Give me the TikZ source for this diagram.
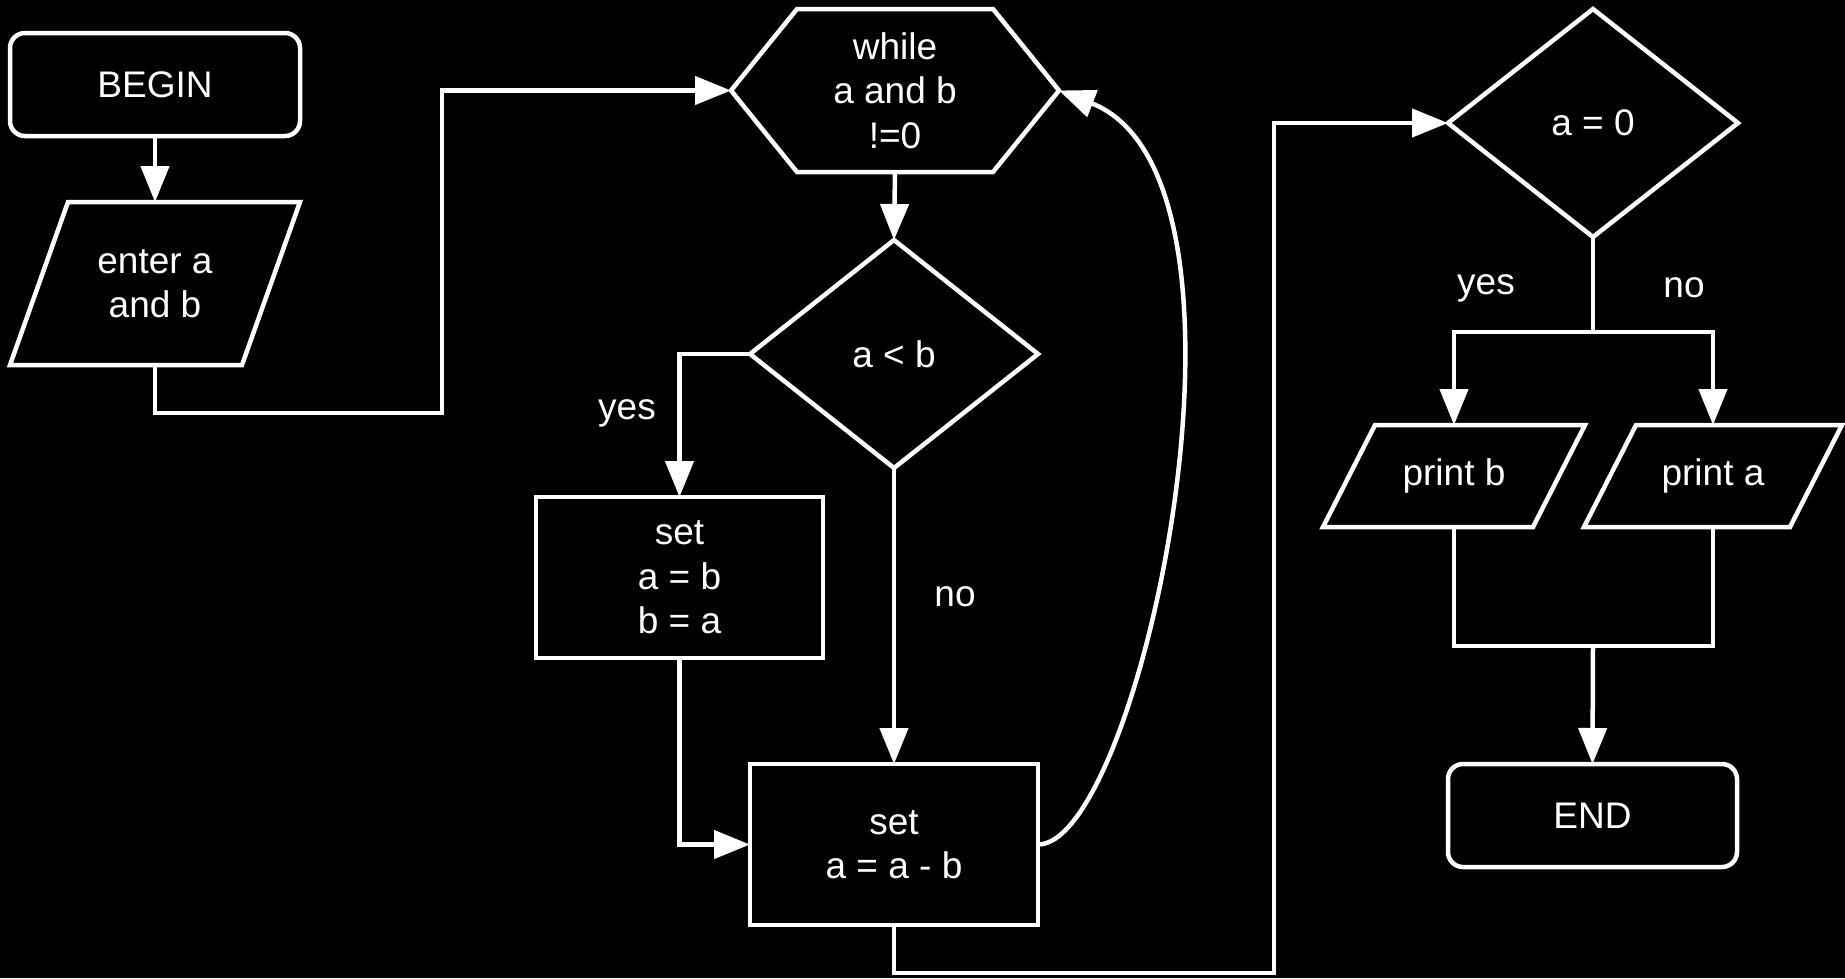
\documentclass[tikz,border=0pt]{standalone}
\usepackage{fontspec}
\setmainfont{Liberation Sans}
\usetikzlibrary{arrows.meta,calc}
\begin{document}
\begin{tikzpicture}[x=1pt,y=-1pt,
  every node/.style={text=white, font=\fontsize{37}{44.4}\selectfont, align=center, inner sep=0pt, outer sep=0pt},
  outline/.style={draw=white, line width=4.5pt, fill=black},
  conn/.style={draw=white, line width=4.5pt},
  arr/.style={conn, -{Triangle[length=36pt, width=28pt]}}]
\useasboundingbox (0,0) rectangle (1845,978);
\fill[black] (0,0) rectangle (1845,978);

% BEGIN
\node[outline, rounded corners=15pt, minimum width=290pt, minimum height=103pt] (begin) at (155,84.5) {\raisebox{-2pt}{BEGIN}};

% enter a and b (parallelogram)
\draw[outline] (68,202) -- (300,202) -- (242,365) -- (10,365) -- cycle;
\node[minimum width=232pt, minimum height=163pt] (enter) at (155,283.5) {enter a\\and b};

% while (hexagon)
\draw[outline] (731,90.5) -- (797,9) -- (993,9) -- (1059,90.5) -- (993,172) -- (797,172) -- cycle;
\node[minimum width=328pt, minimum height=163pt] (while) at (895,90.5) {while\\a and b\\!=0};

% a < b (diamond)
\draw[outline] (894,240) -- (1038,354) -- (894,468) -- (750,354) -- cycle;
\node[minimum width=288pt, minimum height=228pt] (lt) at (894,354) {\raisebox{-2pt}{a < b}};

% set a=b b=a
\node[outline, minimum width=287pt, minimum height=161pt] (swap) at (679.5,577.5) {set\\a = b\\b = a};

% set a = a - b
\node[outline, minimum width=288pt, minimum height=161pt] (sub) at (894,844.5) {set\\a = a - b};

% a = 0 (diamond)
\draw[outline] (1593,9) -- (1738,123) -- (1593,237) -- (1448,123) -- cycle;
\node[minimum width=290pt, minimum height=228pt] (az) at (1593,123) {\raisebox{-2pt}{a = 0}};

% print b
\draw[outline] (1375,425) -- (1585,425) -- (1533,527) -- (1323,527) -- cycle;
\node[minimum width=210pt, minimum height=102pt] (pb) at (1454,476) {\raisebox{-3pt}{print b}};

% print a
\draw[outline] (1636,425) -- (1842,425) -- (1790,527) -- (1584,527) -- cycle;
\node[minimum width=206pt, minimum height=102pt] (pa) at (1713,476) {\raisebox{-3pt}{print a}};

% END
\node[outline, rounded corners=15pt, minimum width=289pt, minimum height=103pt] (end) at (1592.5,815.5) {\raisebox{-2pt}{END}};

% helper coordinates
\coordinate (c1) at (442,413);
\coordinate (c2) at (1274,973);
\coordinate (br) at (1593,332);
\coordinate (mg) at (1593,646);

% connectors
\draw[arr] (begin.south) -- (enter.north);
\draw[arr] (enter.south) |- (c1) |- (while.west);
\draw[arr] (while.south) -- (lt.north);
\draw[arr] (lt.west) -| (swap.north);
\draw[arr] (lt.south) -- (sub.north);
\draw[arr] (swap.south) |- (sub.west);
\draw[arr] (sub.east) .. controls (1140,845) and (1282,178) .. (while.east);
\draw[arr] (sub.south) |- (c2) |- (az.west);
\draw[conn] (az.south) -- (br);
\draw[arr] (br) -| (pb.north);
\draw[arr] (br) -| (pa.north);
\draw[conn] (pb.south) |- (mg);
\draw[conn] (pa.south) |- (mg);
\draw[arr] (mg) -- (end.north);

% labels
\node (lyes1) at (627,413) {yes};
\node (lno1) at (955,597) {no};
\node (lyes2) at (1486,288) {yes};
\node (lno2) at (1684,288) {no};
\end{tikzpicture}
\end{document}
